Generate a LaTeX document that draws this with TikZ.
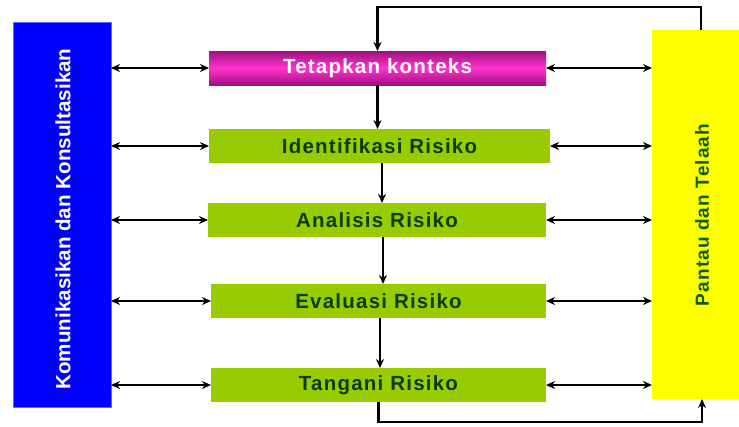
\documentclass[tikz,border=0pt]{standalone}
\usepackage{fontspec}
\setmainfont{Liberation Sans}
\newfontfamily\boxfont{Liberation Sans}[LetterSpace=6]
\newfontfamily\sidefont{Liberation Sans}[LetterSpace=6]
\usetikzlibrary{arrows.meta}
\definecolor{kblue}{HTML}{0000FF}
\definecolor{kyellow}{HTML}{FFFF00}
\definecolor{kgreen}{HTML}{99CC00}
\definecolor{ktext}{HTML}{0D3B0D}
\definecolor{kmagenta}{HTML}{FF33CC}
\definecolor{kmagdark}{HTML}{A0107F}
\tikzset{
  stepgreen/.style={fill=kgreen, draw=none, inner sep=0pt, outer sep=0pt,
    minimum height=34pt, text=ktext,
    font=\boxfont\bfseries\fontsize{20.5}{20.5}\selectfont},
  stepmag/.style={top color=kmagdark, bottom color=kmagdark, middle color=kmagenta,
    draw=none, inner sep=0pt, outer sep=0pt, minimum height=34pt, text=white,
    font=\boxfont\bfseries\fontsize{20.5}{20.5}\selectfont},
  dbl/.style={line width=2.8pt, {Stealth[length=9pt,width=8pt]}-{Stealth[length=9pt,width=8pt]}},
  arr/.style={line width=2.8pt, -{Stealth[length=9pt,width=8pt]}},
}
\begin{document}
\begin{tikzpicture}[x=1pt,y=-1pt]
\useasboundingbox (0,0) rectangle (739,426);
% side boxes
\node[fill=kblue, draw=kblue!60!white, line width=0.5pt, inner sep=0pt, outer sep=0pt,
      minimum width=98pt, minimum height=385pt] (kom) at (62,214.5) {};
\node[rotate=90, text=white, font=\bfseries\fontsize{20.6}{20.6}\selectfont] (komtxt) at (63,219) {Komunikasikan dan Konsultasikan};
\node[fill=kyellow, draw=none, inner sep=0pt, outer sep=0pt,
      minimum width=87pt, minimum height=369pt] (pantau) at (695.5,214.5) {};
\node[rotate=90, text=ktext!80!green, font=\sidefont\bfseries\fontsize{19}{19}\selectfont] (pantxt) at (702,215) {Pantau dan Telaah};
% steps
\node[stepmag, minimum width=337pt] (tetap) at (377.5,68) {Tetapkan konteks};
\node[stepgreen, minimum width=341pt] (ident) at (379.5,146) {Identifikasi Risiko};
\node[stepgreen, minimum width=338pt] (anal) at (377,220) {Analisis Risiko};
\node[stepgreen, minimum width=335pt] (eval) at (378.5,301) {Evaluasi Risiko};
\node[stepgreen, minimum width=335pt] (tang) at (378.5,385) {Tangani Risiko};
% side connectors
\foreach \n in {tetap,ident,anal,eval,tang}{
  \draw[dbl] (kom.east |- \n.west) -- (\n.west);
  \draw[dbl] (\n.east) -- (pantau.west |- \n.east);
}
% vertical flow
\draw[arr] (tetap.south) -- (tetap.south |- ident.north);
\draw[arr] ([xshift=2.5pt]ident.south) -- ([xshift=2.5pt]ident.south |- anal.north);
\draw[arr] ([xshift=6pt]anal.south) -- ([xshift=6pt]anal.south |- eval.north);
\draw[arr] ([xshift=1.5pt]eval.south) -- ([xshift=1.5pt]eval.south |- tang.north);
% loops
\coordinate (topy) at (0,7);
\coordinate (boty) at (0,422);
\draw[arr] ([xshift=5.5pt]pantau.north) -- ([xshift=5.5pt]pantau.north |- topy) -| (tetap.north);
\draw[arr] (tang.south) -- (tang.south |- boty) -| ([xshift=6.5pt]pantau.south);
\end{tikzpicture}
\end{document}
